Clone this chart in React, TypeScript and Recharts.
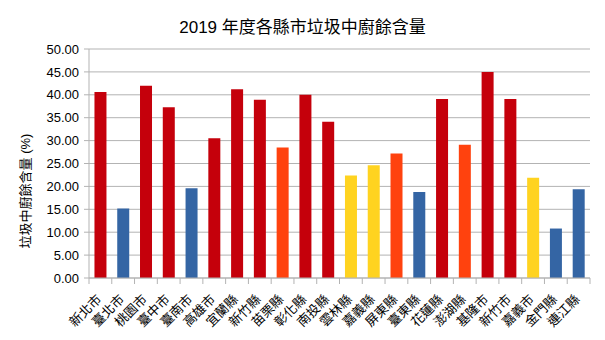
import { Bar, BarChart, CartesianGrid, Cell, XAxis, YAxis } from "recharts";

const counties = [
  "新北市", "臺北市", "桃園市", "臺中市", "臺南市", "高雄市", "宜蘭縣", "新竹縣",
  "苗栗縣", "彰化縣", "南投縣", "雲林縣", "嘉義縣", "屏東縣", "臺東縣", "花蓮縣",
  "澎湖縣", "基隆市", "新竹市", "嘉義市", "金門縣", "連江縣",
];
const foodWaste = [
  40.6, 15.2, 42.0, 37.3, 19.6, 30.5, 41.2, 38.9,
  28.5, 40.0, 34.1, 22.4, 24.6, 27.2, 18.8, 39.1,
  29.1, 45.0, 39.1, 21.9, 10.8, 19.4,
];
const yTicks = [0, 5, 10, 15, 20, 25, 30, 35, 40, 45, 50];

const data = counties.map((name, i) => ({ name, value: foodWaste[i] }));

const FONT = "'Liberation Sans', 'Noto Sans CJK TC', sans-serif";
const GRID = "#b3b3b3";

const W = 605;
const H = 340;
const PLOT_LEFT = 89;
const PLOT_RIGHT = 590;
const BAND = (PLOT_RIGHT - PLOT_LEFT) / counties.length;

function barColor(v: number) {
  if (v >= 30) return "#c5000b";
  if (v >= 25) return "#ff420e";
  if (v >= 20) return "#ffd320";
  return "#3465a4";
}

function CountyTick(props: any) {
  const { x, y, payload, index } = props;
  const left = x - BAND / 2;
  return (
    <g>
      <line x1={left} y1={y} x2={left} y2={y + 6} stroke={GRID} />
      {index === counties.length - 1 && (
        <line x1={x + BAND / 2} y1={y} x2={x + BAND / 2} y2={y + 6} stroke={GRID} />
      )}
      <text
        x={x + 2}
        y={y + 22}
        transform={`rotate(-45 ${x + 2} ${y + 22})`}
        textAnchor="end"
        fontSize={13}
        fontFamily={FONT}
        fill="#000"
      >
        {payload.value}
      </text>
    </g>
  );
}

function YTitle() {
  return (
    <text
      x={25}
      y={191}
      transform="rotate(-90 25 191)"
      textAnchor="middle"
      dominantBaseline="central"
      fontSize={13}
      fontFamily={FONT}
      fill="#000"
    >
      垃圾中廚餘含量 (%)
    </text>
  );
}

export default function App() {
  return (
    <div style={{ position: "absolute", left: 0, top: 0, width: W, height: H, background: "#fff" }}>
      <div
        style={{
          position: "absolute",
          top: 13,
          left: 0,
          width: W,
          textAlign: "center",
          fontFamily: FONT,
          fontSize: 17,
          color: "#000",
        }}
      >
        2019 年度各縣市垃圾中廚餘含量
      </div>
      <BarChart
        width={W}
        height={H}
        data={data}
        barCategoryGap="24%"
        margin={{ top: 49, right: W - PLOT_RIGHT, left: 0, bottom: 0 }}
      >
        <CartesianGrid vertical={false} stroke={GRID} strokeWidth={1} />
        <XAxis
          dataKey="name"
          interval={0}
          height={62}
          tickLine={false}
          tickSize={0}
          tickMargin={0}
          axisLine={{ stroke: GRID }}
          tick={<CountyTick />}
        />
        <YAxis
          width={PLOT_LEFT}
          domain={[0, 50]}
          ticks={yTicks}
          interval={0}
          tickFormatter={(v: number) => v.toFixed(2)}
          tickSize={5}
          tickMargin={5}
          tickLine={{ stroke: GRID }}
          axisLine={{ stroke: GRID }}
          tick={{ fontSize: 13, fontFamily: FONT, fill: "#000" }}
          label={<YTitle />}
        />
        <YAxis yAxisId="frame" orientation="right" width={0} tick={false} axisLine={{ stroke: GRID }} domain={[0, 50]} />
        <Bar dataKey="value" isAnimationActive={false}>
          {data.map((d, i) => (
            <Cell key={i} fill={barColor(d.value)} />
          ))}
        </Bar>
      </BarChart>
    </div>
  );
}
